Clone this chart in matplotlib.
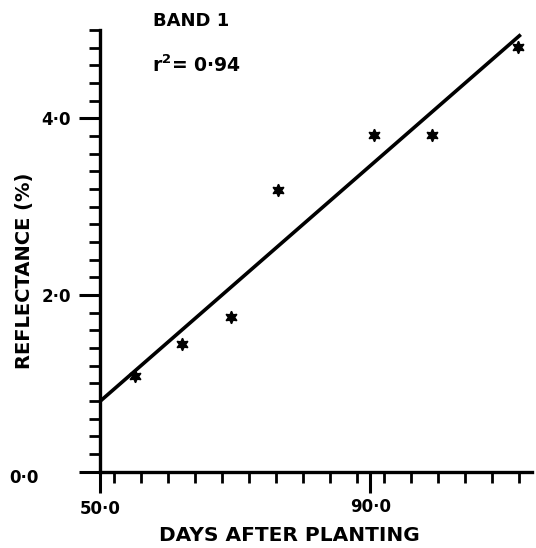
import numpy as np
import matplotlib.pyplot as plt
import matplotlib.transforms as mtransforms
from matplotlib.ticker import MultipleLocator, FixedLocator

# data
days = [55.2, 62.1, 69.4, 76.4, 90.6, 99.1, 111.9]
reflectance = [1.09, 1.45, 1.75, 3.19, 3.81, 3.81, 4.81]
fit_days = [50.0, 112.3]
fit_refl = [0.80, 4.95]

x_ticks = [50, 90]
x_labels = ["50·0", "90·0"]
y_ticks = [0, 2, 4]
y_labels = ["0·0", "2·0", "4·0"]

plt.rcParams['font.family'] = ['DejaVu Sans']
plt.rcParams['font.weight'] = 'bold'

fig = plt.figure(figsize=(5.36, 5.48), dpi=100)
ax = fig.add_axes([0.187, 0.139, 0.806, 0.806])

ax.plot(fit_days, fit_refl, color='black', lw=2.6, solid_capstyle='butt')
ax.plot(days, reflectance, linestyle='none', marker=(6, 1, 0), markersize=9,
        color='black')

ax.set_xlim(50, 114)
ax.set_ylim(0, 5.0)

ax.spines['top'].set_visible(False)
ax.spines['right'].set_visible(False)
ax.spines['left'].set_linewidth(2.4)
ax.spines['bottom'].set_linewidth(2.4)

ax.xaxis.set_major_locator(FixedLocator(x_ticks))
ax.set_xticklabels(x_labels)
ax.xaxis.set_minor_locator(MultipleLocator(4))
ax.yaxis.set_major_locator(FixedLocator(y_ticks))
ax.set_yticklabels(y_labels)
ax.yaxis.set_minor_locator(MultipleLocator(0.2))

ax.tick_params(axis='both', which='major', direction='out', length=15, width=2.2,
               labelsize=12, pad=6)
ax.tick_params(axis='both', which='minor', direction='out', length=8, width=2.0)
ax.tick_params(axis='x', which='major', length=15, pad=4)

# the 0.0 label sits further left, clear of the 50.0 tick
lbl0 = ax.get_yticklabels()[0]
lbl0.set_transform(lbl0.get_transform() +
                   mtransforms.ScaledTranslation(-0.32, -0.04, fig.dpi_scale_trans))
lblx = ax.get_xticklabels()[0]
lblx.set_transform(lblx.get_transform() +
                   mtransforms.ScaledTranslation(0, -0.02, fig.dpi_scale_trans))

ax.set_xlabel("DAYS AFTER PLANTING", fontsize=14.5, fontweight='bold')
ax.set_ylabel("REFLECTANCE (%)", fontsize=14, fontweight='bold')
ax.xaxis.set_label_coords(0.4375, -0.122)
ax.yaxis.set_label_coords(-0.153, 0.455)

ax.text(0.123, 1.02, "BAND 1", transform=ax.transAxes, fontsize=13,
        fontweight='bold', va='center')
ax.text(0.12, 0.92, "$\\mathbf{r^2}$= 0·94", transform=ax.transAxes, fontsize=13.5,
        fontweight='bold', va='center')

fig.savefig("out.png", dpi=100)
